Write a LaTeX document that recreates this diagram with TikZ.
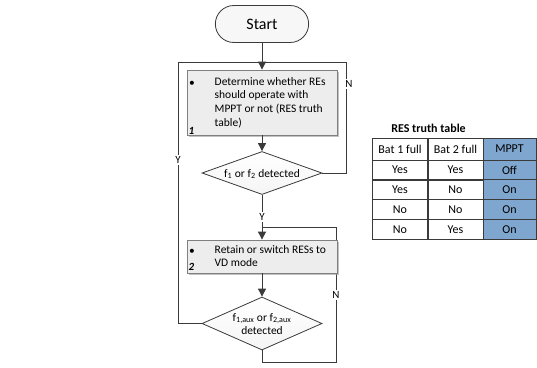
\documentclass[tikz,border=0pt]{standalone}
\usepackage{fontspec}
\setmainfont{Carlito}
\usetikzlibrary{shapes.misc,shapes.geometric,arrows.meta,shadows,backgrounds}
\definecolor{ln}{HTML}{3A3A3A}
\definecolor{bd}{HTML}{808080}
\definecolor{mpptc}{HTML}{7FA6CE}
\definecolor{boxfill}{HTML}{EDEDED}
\definecolor{startfill}{HTML}{F7F7F7}
\begin{document}
\begin{tikzpicture}[x=1pt,y=-1pt,
  conn/.style={draw=ln,line width=0.9pt},
  arr/.style={conn,-{Triangle[width=8pt,length=8pt]}},
  procbox/.style={draw=bd,line width=0.8pt,fill=boxfill,inner sep=0pt,
     drop shadow={shadow xshift=1.8pt,shadow yshift=-1.8pt,fill=gray!80,opacity=0.6}},
  decbox/.style={diamond,draw=ln,line width=0.8pt,top color=white,bottom color=gray!8,inner sep=0pt},
  txt/.style={font=\fontsize{11.5}{13.7}\selectfont,inner sep=0pt},
  lbl/.style={font=\fontsize{11}{13}\selectfont,fill=white,inner sep=1pt},
  num/.style={font=\fontsize{11}{13}\selectfont\bfseries\itshape,inner sep=0pt},
  cell/.style={draw=ln,line width=0.8pt,minimum width=56pt,inner sep=0pt,
     font=\fontsize{12}{14}\selectfont},
  ]
\useasboundingbox (0,0) rectangle (537,367);

% Start
\node[rounded rectangle,draw=ln,line width=0.8pt,fill=startfill,minimum width=100pt,
      minimum height=37pt,font=\fontsize{16}{18}\selectfont] (start) at (262,24) {Start};

% Process box 1
\node[procbox,minimum width=150pt,minimum height=65pt] (box1) at (262,102.5) {};
% Decision 1
\node[decbox,minimum width=120pt,minimum height=43pt] (d1) at (262,173) {};
% Process box 2
\node[procbox,minimum width=150pt,minimum height=33pt] (box2) at (262,256.5) {};
% Decision 2
\node[decbox,minimum width=120pt,minimum height=53pt] (d2) at (262,323.5) {};

% loop corners
\coordinate (join1) at (262,62);
\coordinate (join2) at (262,227);
\coordinate (n1a) at (346,173);
\coordinate (n1b) at (346,62);
\coordinate (y2a) at (178,323.5);
\coordinate (y2b) at (178,62);
\coordinate (n2a) at (262,362);
\coordinate (n2b) at (336,362);
\coordinate (n2c) at (336,227);

\begin{scope}[on background layer]
\draw[conn] (d1.east) -- (n1a) -- (n1b) -- (join1);
\draw[conn] (d2.west) -- (y2a) -- (y2b) -- (join1);
\draw[conn] (d2.south) -- (n2a) -- (n2b) -- (n2c) -- (join2);
\end{scope}

\draw[arr] (start.south) -- (box1.north);
\draw[arr] (box1.south) -- (d1.north);
\draw[arr] (d1.south) -- (box2.north);
\draw[arr] (box2.south) -- (d2.north);

% labels on lines
\node[lbl] (lN1) at (349,84) {N};
\node[lbl] (lY1) at (178,160) {Y};
\node[lbl] (lY2) at (262,217) {Y};
\node[lbl] (lN2) at (336,295) {N};

% texts box 1
\node[txt] (b1bul) at (192,84) {\textbullet};
\node[txt,anchor=north west,align=left] (b1txt) at (214.5,77)
  {Determine whether REs\\should operate with\\MPPT or not (RES truth\\table)};
\node[num] (b1num) at (191.5,131) {1};

% decision 1 text
\node[txt] (d1txt) at (262,174) {f\textsubscript{1} or f\textsubscript{2} detected};

% texts box 2
\node[txt] (b2bul) at (192,252) {\textbullet};
\node[txt,anchor=north west,align=left] (b2txt) at (214.5,245)
  {Retain or switch RESs to\\VD mode};
\node[num] (b2num) at (191.5,267) {2};

% decision 2 text
\node[txt,align=center] (d2txt) at (262,324)
  {f\textsubscript{1,aux} or f\textsubscript{2,aux}\\detected};

% truth table
\node[font=\fontsize{12}{14}\selectfont\bfseries,inner sep=0pt] (ttitle) at (428.5,128) {RES truth table};
\node[cell,minimum height=22pt] (c11) at (400,149) {Bat 1 full};
\node[cell,minimum height=22pt] (c12) at (455.5,149) {Bat 2 full};
\node[cell,minimum height=22pt,fill=mpptc,minimum width=53pt] (c13) at (509.5,149) {MPPT};
\foreach \r/\a/\b/\c [count=\i from 2] in {170/Yes/Yes/Off,189.5/Yes/No/On,209.5/No/No/On,229.5/No/Yes/On}{
  \node[cell,minimum height=20pt] (c\i1) at (400,\r) {\a};
  \node[cell,minimum height=20pt] (c\i2) at (455.5,\r) {\b};
  \node[cell,minimum height=20pt,fill=mpptc,minimum width=53pt] (c\i3) at (509.5,\r) {\c};
}
\end{tikzpicture}
\end{document}
